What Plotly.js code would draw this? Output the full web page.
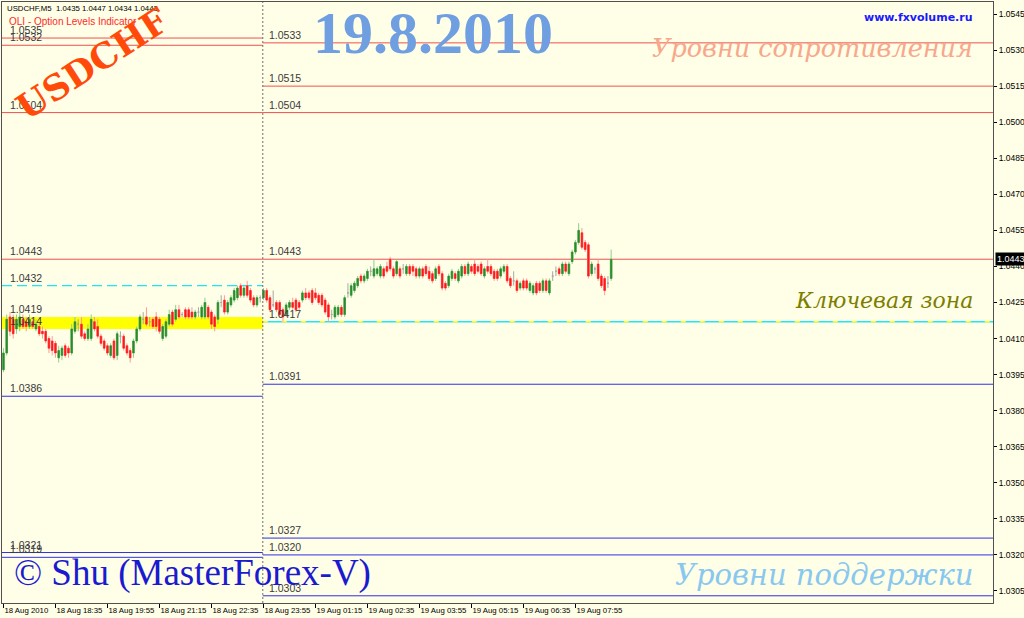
<!DOCTYPE html>
<html><head><meta charset="utf-8">
<script src="https://cdn.plot.ly/plotly-3.0.1.min.js"></script>
<style>html,body{margin:0;padding:0;background:#fffee6;}#chart{width:1024px;height:618px;}</style>
</head><body><div id="chart"></div>
<script>
// ---- data (USDCHF M5, 18 Aug 17:15 .. 19 Aug 08:50) ----
const openP = [
1.0397,1.0404,1.0419,1.0418,1.0414,1.0415,1.0418,1.0417,1.0415,1.0417,
1.0414,1.0415,1.0413,1.0413,1.0410,1.0409,1.0408,1.0402,1.0403,1.0407,
1.0406,1.0404,1.0413,1.0416,1.0416,1.0412,1.0410,1.0410,1.0417,1.0415,
1.0411,1.0409,1.0407,1.0403,1.0409,1.0403,1.0411,1.0411,1.0407,1.0405,
1.0404,1.0409,1.0414,1.0418,1.0419,1.0417,1.0418,1.0419,1.0418,1.0410,
1.0411,1.0416,1.0421,1.0418,1.0422,1.0420,1.0422,1.0422,1.0421,1.0419,
1.0421,1.0419,1.0419,1.0423,1.0421,1.0419,1.0418,1.0425,1.0426,1.0421,
1.0424,1.0426,1.0427,1.0432,1.0428,1.0432,1.0430,1.0427,1.0424,1.0427,
1.0427,1.0430,1.0427,1.0424,1.0425,1.0425,1.0422,1.0420,1.0423,1.0425,
1.0426,1.0425,1.0426,1.0429,1.0429,1.0430,1.0429,1.0428,1.0428,1.0426,
1.0424,1.0420,1.0419,1.0420,1.0423,1.0420,1.0429,1.0428,1.0430,1.0432,
1.0436,1.0434,1.0435,1.0438,1.0436,1.0437,1.0436,1.0439,1.0440,1.0443,
1.0439,1.0437,1.0439,1.0439,1.0437,1.0440,1.0440,1.0439,1.0436,1.0439,
1.0440,1.0438,1.0437,1.0435,1.0440,1.0437,1.0433,1.0432,1.0435,1.0437,
1.0434,1.0436,1.0440,1.0437,1.0440,1.0441,1.0440,1.0441,1.0436,1.0440,
1.0440,1.0438,1.0438,1.0436,1.0438,1.0440,1.0435,1.0434,1.0434,1.0431,
1.0434,1.0434,1.0430,1.0429,1.0433,1.0433,1.0430,1.0434,1.0429,1.0436,
1.0438,1.0439,1.0437,1.0441,1.0437,1.0442,1.0446,1.0450,1.0454,1.0450,
1.0449,1.0437,1.0439,1.0441,1.0436,1.0435,1.0433,1.0435];
const highP = [
1.0406,1.0420,1.0421,1.0420,1.0420,1.0421,1.0420,1.0419,1.0420,1.0418,
1.0418,1.0417,1.0415,1.0414,1.0411,1.0411,1.0409,1.0407,1.0407,1.0408,
1.0407,1.0416,1.0419,1.0418,1.0419,1.0413,1.0416,1.0420,1.0419,1.0418,
1.0412,1.0410,1.0408,1.0408,1.0410,1.0413,1.0413,1.0412,1.0408,1.0406,
1.0410,1.0415,1.0420,1.0421,1.0423,1.0419,1.0419,1.0421,1.0419,1.0416,
1.0418,1.0422,1.0422,1.0424,1.0424,1.0421,1.0423,1.0423,1.0423,1.0422,
1.0423,1.0424,1.0427,1.0424,1.0422,1.0420,1.0426,1.0428,1.0428,1.0426,
1.0428,1.0431,1.0432,1.0433,1.0432,1.0434,1.0431,1.0428,1.0428,1.0428,
1.0431,1.0431,1.0428,1.0430,1.0426,1.0426,1.0423,1.0425,1.0426,1.0427,
1.0427,1.0426,1.0430,1.0431,1.0430,1.0431,1.0431,1.0429,1.0429,1.0427,
1.0425,1.0422,1.0424,1.0424,1.0424,1.0428,1.0433,1.0433,1.0434,1.0436,
1.0437,1.0437,1.0439,1.0440,1.0443,1.0440,1.0441,1.0440,1.0442,1.0444,
1.0440,1.0443,1.0440,1.0441,1.0441,1.0441,1.0441,1.0440,1.0440,1.0440,
1.0441,1.0440,1.0438,1.0440,1.0441,1.0438,1.0434,1.0437,1.0439,1.0438,
1.0439,1.0441,1.0441,1.0442,1.0441,1.0443,1.0441,1.0442,1.0440,1.0443,
1.0441,1.0439,1.0439,1.0440,1.0441,1.0441,1.0436,1.0438,1.0435,1.0434,
1.0435,1.0435,1.0434,1.0433,1.0434,1.0434,1.0435,1.0435,1.0435,1.0438,
1.0440,1.0440,1.0442,1.0442,1.0442,1.0447,1.0451,1.0458,1.0456,1.0451,
1.0450,1.0442,1.0440,1.0443,1.0437,1.0436,1.0436,1.0447];
const lowP = [
1.0396,1.0403,1.0411,1.0410,1.0412,1.0413,1.0414,1.0413,1.0414,1.0414,
1.0413,1.0411,1.0410,1.0408,1.0404,1.0403,1.0402,1.0400,1.0401,1.0402,
1.0402,1.0403,1.0412,1.0413,1.0410,1.0409,1.0409,1.0409,1.0413,1.0410,
1.0407,1.0405,1.0403,1.0402,1.0401,1.0401,1.0408,1.0405,1.0403,1.0400,
1.0402,1.0408,1.0413,1.0416,1.0415,1.0415,1.0414,1.0413,1.0412,1.0409,
1.0410,1.0415,1.0415,1.0417,1.0418,1.0419,1.0418,1.0418,1.0418,1.0418,
1.0419,1.0418,1.0418,1.0418,1.0414,1.0413,1.0416,1.0423,1.0420,1.0420,
1.0423,1.0425,1.0426,1.0427,1.0427,1.0427,1.0425,1.0423,1.0423,1.0425,
1.0426,1.0425,1.0421,1.0423,1.0421,1.0419,1.0417,1.0419,1.0422,1.0422,
1.0421,1.0422,1.0425,1.0426,1.0426,1.0424,1.0426,1.0424,1.0423,1.0420,
1.0417,1.0418,1.0418,1.0419,1.0419,1.0419,1.0427,1.0427,1.0429,1.0431,
1.0433,1.0433,1.0434,1.0436,1.0435,1.0436,1.0435,1.0435,1.0437,1.0438,
1.0435,1.0436,1.0435,1.0437,1.0436,1.0436,1.0436,1.0435,1.0435,1.0435,
1.0436,1.0434,1.0433,1.0434,1.0436,1.0430,1.0430,1.0431,1.0434,1.0434,
1.0433,1.0435,1.0436,1.0436,1.0437,1.0436,1.0437,1.0436,1.0435,1.0437,
1.0436,1.0434,1.0434,1.0435,1.0437,1.0433,1.0431,1.0432,1.0429,1.0430,
1.0430,1.0430,1.0429,1.0428,1.0428,1.0429,1.0429,1.0429,1.0428,1.0434,
1.0436,1.0436,1.0436,1.0437,1.0436,1.0441,1.0445,1.0449,1.0447,1.0446,
1.0435,1.0436,1.0437,1.0434,1.0431,1.0428,1.0431,1.0434];
const closeP = [
1.0404,1.0418,1.0413,1.0412,1.0418,1.0419,1.0415,1.0415,1.0418,1.0415,
1.0416,1.0412,1.0412,1.0409,1.0406,1.0405,1.0404,1.0405,1.0406,1.0403,
1.0404,1.0414,1.0417,1.0416,1.0411,1.0410,1.0414,1.0418,1.0414,1.0411,
1.0408,1.0406,1.0404,1.0407,1.0402,1.0412,1.0411,1.0406,1.0404,1.0402,
1.0409,1.0414,1.0419,1.0418,1.0416,1.0417,1.0415,1.0415,1.0413,1.0415,
1.0417,1.0420,1.0416,1.0422,1.0419,1.0420,1.0419,1.0419,1.0419,1.0421,
1.0421,1.0423,1.0425,1.0419,1.0416,1.0415,1.0425,1.0425,1.0421,1.0425,
1.0427,1.0430,1.0431,1.0428,1.0431,1.0428,1.0426,1.0424,1.0427,1.0427,
1.0430,1.0426,1.0422,1.0424,1.0422,1.0420,1.0419,1.0424,1.0425,1.0423,
1.0422,1.0423,1.0429,1.0427,1.0427,1.0425,1.0427,1.0425,1.0424,1.0421,
1.0419,1.0420,1.0423,1.0423,1.0420,1.0427,1.0429,1.0432,1.0433,1.0435,
1.0434,1.0436,1.0438,1.0438,1.0439,1.0439,1.0440,1.0436,1.0438,1.0439,
1.0436,1.0442,1.0436,1.0439,1.0440,1.0437,1.0438,1.0436,1.0439,1.0436,
1.0437,1.0435,1.0434,1.0439,1.0437,1.0431,1.0431,1.0436,1.0438,1.0435,
1.0438,1.0440,1.0437,1.0441,1.0438,1.0437,1.0438,1.0437,1.0439,1.0438,
1.0437,1.0435,1.0435,1.0439,1.0440,1.0434,1.0432,1.0434,1.0430,1.0433,
1.0431,1.0431,1.0433,1.0432,1.0429,1.0430,1.0434,1.0430,1.0434,1.0436,
1.0438,1.0437,1.0441,1.0438,1.0441,1.0446,1.0450,1.0455,1.0448,1.0447,
1.0436,1.0441,1.0439,1.0435,1.0432,1.0430,1.0433,1.0443];

const tickBars   = [0,16,32,48,64,80,96,112,128,144,160,176];
const tickLabels = ['18 Aug 2010','18 Aug 18:35','18 Aug 19:55','18 Aug 21:15','18 Aug 22:35','18 Aug 23:55',
                    '19 Aug 01:15','19 Aug 02:35','19 Aug 03:55','19 Aug 05:15','19 Aug 06:35','19 Aug 07:55'];

// option levels (previous day, left of the separator) and current day (right)
const leftLevels  = [1.0535,1.0532,1.0504,1.0443,1.0432,1.0419,1.0414,1.0386,1.0321,1.0319];
const leftKinds   = ['res','res','res','res','keyDash','band','band','sup','sup','sup'];
const rightLevels = [1.0533,1.0515,1.0504,1.0443,1.0417,1.0391,1.0327,1.0320,1.0303];
const rightKinds  = ['res','res','res','res','key','sup','sup','sup','sup'];
const bandLevels  = [1.0414,1.0419];
const lastPrice   = 1.0443;
const headerText  = 'USDCHF,M5  1.0435 1.0447 1.0434 1.0443';

// ---- layout constants ----
const xRange = [-0.45, 304.5];
const yRange = [1.0300, 1.0550];
const separatorBar = 79.8;
const BG = '#fffee6';
const RED = '#f05050', BLUE = '#3030e8', CYAN = '#1ee6f5';

// ---- build traces ----
const idx = openP.map((_, i) => i);
const dir = idx.filter(i => closeP[i] !== openP[i]);
const doji = idx.filter(i => closeP[i] === openP[i]);
const pick = (arr, ids) => ids.map(i => arr[i]);

const wicks = {
  type: 'candlestick', x: dir, open: pick(openP, dir), high: pick(highP, dir),
  low: pick(lowP, dir), close: pick(closeP, dir),
  increasing: {line: {color: '#8fcf8f', width: 1}, fillcolor: '#8fcf8f'},
  decreasing: {line: {color: '#ff9a9a', width: 1}, fillcolor: '#ff9a9a'},
  whiskerwidth: 0, hoverinfo: 'skip', showlegend: false
};
const dojiTrace = {
  type: 'candlestick', x: doji, open: pick(openP, doji), high: pick(highP, doji),
  low: pick(lowP, doji), close: pick(closeP, doji),
  increasing: {line: {color: '#a8a8a8', width: 1}, fillcolor: '#a8a8a8'},
  decreasing: {line: {color: '#a8a8a8', width: 1}, fillcolor: '#a8a8a8'},
  whiskerwidth: 0, hoverinfo: 'skip', showlegend: false
};
const bodies = {
  type: 'candlestick', x: dir, open: pick(openP, dir), close: pick(closeP, dir),
  high: dir.map(i => Math.max(openP[i], closeP[i])), low: dir.map(i => Math.min(openP[i], closeP[i])),
  increasing: {line: {color: '#2a8c2a', width: 0.5}, fillcolor: '#2a8c2a'},
  decreasing: {line: {color: '#ff1a1a', width: 0.5}, fillcolor: '#ff1a1a'},
  whiskerwidth: 0, hoverinfo: 'skip', showlegend: false
};

// ---- shapes ----
const shapes = [];
function levelLine(x0, x1, y, kind) {
  if (kind === 'res') shapes.push({type:'line', layer:'below', x0, x1, y0:y, y1:y, line:{color:RED, width:1}});
  if (kind === 'sup') shapes.push({type:'line', layer:'below', x0, x1, y0:y, y1:y, line:{color:BLUE, width:1}});
  if (kind === 'keyDash') shapes.push({type:'line', layer:'below', x0, x1, y0:y, y1:y, line:{color:CYAN, width:1.4, dash:'10px,5px'}});
  if (kind === 'key') {
    shapes.push({type:'line', layer:'below', x0, x1, y0:y, y1:y, line:{color:CYAN, width:1.4}});
    shapes.push({type:'line', layer:'below', x0, x1, y0:y, y1:y, line:{color:'#ffff20', width:1.4, dash:'5px,14px'}});
  }
}
shapes.push({type:'rect', layer:'below', x0:xRange[0], x1:separatorBar, y0:bandLevels[0], y1:bandLevels[1],
             fillcolor:'#ffff00', line:{width:0}});
leftLevels.forEach((v, i) => levelLine(xRange[0], separatorBar, v, leftKinds[i]));
rightLevels.forEach((v, i) => levelLine(separatorBar, xRange[1], v, rightKinds[i]));
shapes.push({type:'line', layer:'above', x0:separatorBar, x1:separatorBar, yref:'paper', y0:0, y1:1,
             line:{color:'#707070', width:1, dash:'2px,2px'}});

// ---- annotations ----
const lvlFont = {family:'Liberation Sans, Arial, sans-serif', size:10.5, color:'#3a3a3a'};
const annotations = [];
leftLevels.forEach(v => annotations.push({x:xRange[0], y:v, xref:'x', yref:'y', text:v.toFixed(4),
  showarrow:false, xanchor:'left', yanchor:'bottom', xshift:6, yshift:0, font:lvlFont}));
rightLevels.forEach(v => annotations.push({x:separatorBar, y:v, xref:'x', yref:'y', text:v.toFixed(4),
  showarrow:false, xanchor:'left', yanchor:'bottom', xshift:4, yshift:0, font:lvlFont}));

annotations.push(
  {xref:'paper', yref:'y', x:1, y:lastPrice, text:lastPrice.toFixed(4), showarrow:false, xanchor:'left',
   yanchor:'middle', xshift:2, bgcolor:'#000', borderpad:1, font:{family:'Liberation Sans, Arial', size:9, color:'#fff'}},
  {xref:'paper', yref:'paper', x:0.003, y:0.990, text:headerText, showarrow:false, xanchor:'left', yanchor:'middle',
   font:{family:'Liberation Sans, Arial', size:7.8, color:'#000'}},
  {xref:'paper', yref:'paper', x:0.005, y:0.968, text:'OLI - Option Levels Indicator', showarrow:false,
   xanchor:'left', yanchor:'middle', font:{family:'Liberation Sans, Arial', size:10, color:'#ff2a2a'}},
  {xref:'paper', yref:'paper', x:0.091, y:0.898, text:'<b>USDCHF</b>', showarrow:false, textangle:-33,
   xanchor:'center', yanchor:'middle', font:{family:'DejaVu Serif, serif', size:35, color:'#ff4a0a'}},
  {xref:'paper', yref:'paper', x:0.435, y:0.948, text:'<b>19.8.2010</b>', showarrow:false,
   xanchor:'center', yanchor:'middle', font:{family:'Liberation Serif, serif', size:60, color:'#6f9fe0'}},
  {xref:'paper', yref:'paper', x:0.982, y:0.975, text:'<b>www.fxvolume.ru</b>', showarrow:false,
   xanchor:'right', yanchor:'middle', font:{family:'DejaVu Sans, sans-serif', size:11, color:'#1a1aff'}},
  {xref:'paper', yref:'paper', x:0.982, y:0.9235, text:'<i>Уровни сопротивления</i>', showarrow:false,
   xanchor:'right', yanchor:'middle', font:{family:'DejaVu Serif, serif', size:25.5, color:'#f7a88c'}},
  {xref:'paper', yref:'paper', x:0.982, y:0.504, text:'<i>Ключевая зона</i>', showarrow:false,
   xanchor:'right', yanchor:'middle', font:{family:'DejaVu Serif, serif', size:22, color:'#7d7d00'}},
  {xref:'paper', yref:'paper', x:0.982, y:0.0466, text:'<i>Уровни поддержки</i>', showarrow:false,
   xanchor:'right', yanchor:'middle', font:{family:'DejaVu Serif, serif', size:29, color:'#88c8f0'}},
  {xref:'paper', yref:'paper', x:0.010, y:0.0499, text:'© Shu (MasterForex-V)', showarrow:false,
   xanchor:'left', yanchor:'middle', font:{family:'Liberation Serif, serif', size:37, color:'#1a1ad0'}}
);

const layout = {
  width:1024, height:618, margin:{l:2, r:31, t:2, b:15},
  paper_bgcolor:BG, plot_bgcolor:BG, showlegend:false, boxgap:0.3,
  xaxis:{type:'linear', range:xRange, rangeslider:{visible:false}, showgrid:false, zeroline:false,
         showline:true, mirror:true, linecolor:'#505050', linewidth:1, automargin:false,
         tickvals:tickBars, ticktext:tickLabels, ticks:'outside', ticklen:4, tickcolor:'#000', tickangle:0,
         ticklabelposition:'outside right', tickfont:{family:'Liberation Sans, Arial', size:7.8, color:'#000'}},
  yaxis:{side:'right', range:yRange, showgrid:false, zeroline:false, showline:true, mirror:true, automargin:false,
         linecolor:'#505050', linewidth:1, tick0:1.0305, dtick:0.0015, tickformat:'.4f',
         ticks:'outside', ticklen:3, tickcolor:'#000',
         tickfont:{family:'Liberation Sans, Arial', size:8.5, color:'#000'}},
  shapes, annotations
};
Plotly.newPlot('chart', [wicks, dojiTrace, bodies], layout, {staticPlot:true, displayModeBar:false});
</script></body></html>
